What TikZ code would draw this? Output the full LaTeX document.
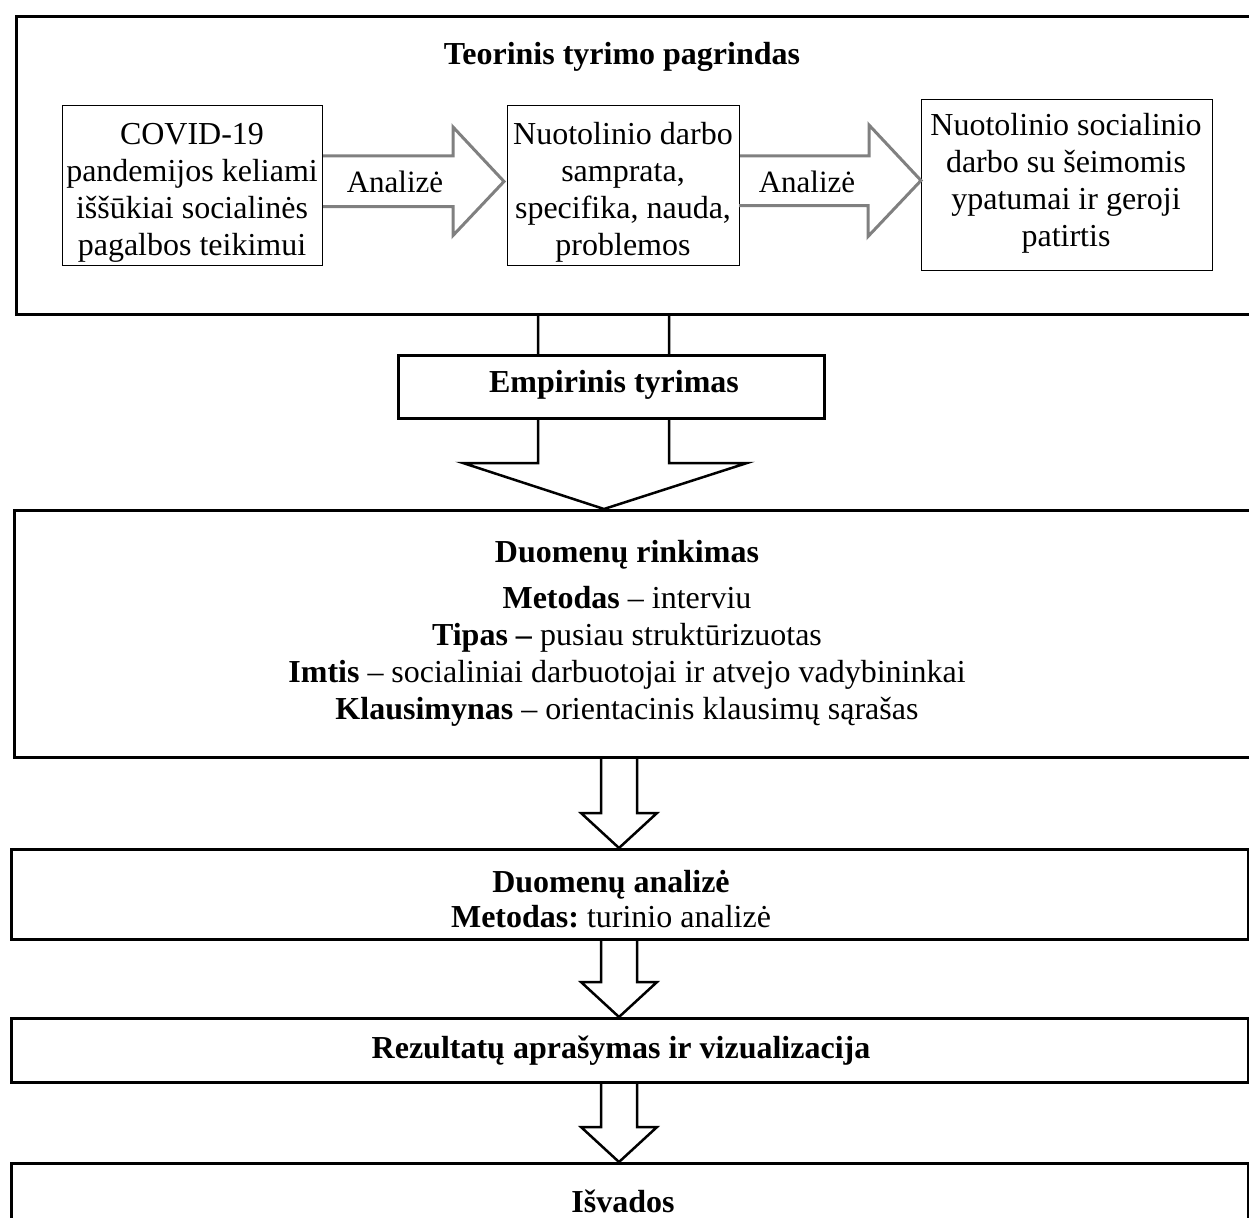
\documentclass[tikz,border=0pt]{standalone}
\usepackage{fontspec}
\setmainfont{Liberation Serif}
\usetikzlibrary{calc}
\frenchspacing

\tikzset{
  bigframe/.style={draw, line width=3pt, inner sep=0pt, anchor=north west},
  smallbox/.style={draw, line width=1pt, inner sep=0pt, anchor=north west},
  txt/.style={align=center, inner sep=0pt, font=\fontsize{32}{37}\selectfont},
  grayarrow/.style={draw=black!50, line width=3pt, line join=miter},
  hollowarrow/.style={draw, line width=2.5pt, line join=miter},
}

\begin{document}
\begin{tikzpicture}[x=1pt, y=-1pt]
  \useasboundingbox (0,0) rectangle (1249,1217);
  \clip (0,0) rectangle (1249,1217);

  % theory part
  \node[bigframe, minimum width=1240pt, minimum height=298pt] (teorija) at (15,15) {};
  \node[txt, anchor=base] (titulas) at (622,65) {\textbf{Teorinis tyrimo pagrindas}};

  \node[smallbox, minimum width=260pt, minimum height=160pt] (covid) at (62,105) {};
  \node[smallbox, minimum width=232pt, minimum height=160pt] (samprata) at (507,105) {};
  \node[smallbox, minimum width=291pt, minimum height=171pt] (patirtis) at (921,99) {};

  \node[txt] (covidtxt) at (192,192.5) {COVID-19\\pandemijos keliami\\iššūkiai socialinės\\pagalbos teikimui};
  \node[txt] (sampratatxt) at (623,192.5) {Nuotolinio darbo\\samprata,\\specifika, nauda,\\problemos};
  \node[txt] (patirtistxt) at (1066,183) {Nuotolinio socialinio\\darbo su šeimomis\\ypatumai ir geroji\\patirtis};

  \draw[grayarrow] ($(covid.north east)+(0,51)$) -- ++(130,0) -- ++(0,-29)
    -- ($(samprata.west)+(-3,-4)$) -- ++(-51,54) -- ++(0,-29) -- ++(-130,0);
  \draw[grayarrow] ($(samprata.north east)+(0,51)$) -- ++(129,0) -- ++(0,-31)
    -- ($(patirtis.west)+(0,-4.5)$) -- ++(-53,56) -- ++(0,-31) -- ++(-129,0);
  \node[txt, anchor=base, font=\fontsize{31}{37}\selectfont] (analize1) at (395,193) {Analizė};
  \node[txt, anchor=base, font=\fontsize{31}{37}\selectfont] (analize2) at (807,193) {Analizė};

  % empirical part
  \node[bigframe, minimum width=1240pt, minimum height=247pt] (rinkimas) at (13,509) {};
  \coordinate (el) at (538,0);
  \coordinate (er) at (669,0);
  \coordinate (etip) at (604,0);
  \draw[hollowarrow] (el |- teorija.south) -- ($(el |- rinkimas.north)+(0,-46)$) -- ++(-75,0)
    -- (etip |- rinkimas.north) -- ($(er |- rinkimas.north)+(78,-46)$) -- ++(-78,0) -- (er |- teorija.south);
  \node[bigframe, fill=white, minimum width=426pt, minimum height=63pt] (empirinis) at (397,354) {};
  \node[txt, anchor=base] (empirinistxt) at (614,392) {\textbf{Empirinis tyrimas}};

  \node[txt] (rinkimastxt) at (627,633) {\textbf{Duomenų rinkimas}\\[9pt]
    \textbf{Metodas} – interviu\\
    \textbf{Tipas –} pusiau struktūrizuotas\\
    \textbf{Imtis} – socialiniai darbuotojai ir atvejo vadybininkai\\
    \textbf{Klausimynas} – orientacinis klausimų sąrašas};

  \node[bigframe, minimum width=1237pt, minimum height=90pt] (analize) at (10,848) {};
  \node[txt] (analizetxt) at (611,899) {\textbf{Duomenų analizė}\\[-2pt]\textbf{Metodas:} turinio analizė};

  \node[bigframe, minimum width=1237pt, minimum height=64pt] (rezultatai) at (10,1017) {};
  \node[txt, anchor=base] (rezultataitxt) at (621,1058) {\textbf{Rezultatų aprašymas ir vizualizacija}};

  \node[bigframe, minimum width=1237pt, minimum height=80pt] (isvados) at (10,1162) {};
  \node[txt, anchor=base] (isvadostxt) at (623,1212) {\textbf{Išvados}};

  % hollow arrows between the lower boxes
  \coordinate (ax) at (619,0);
  \foreach \a/\b in {rinkimas/analize, analize/rezultatai, rezultatai/isvados}{
    \draw[hollowarrow] ($(ax |- \a.south)+(-18,0)$) -- ($(ax |- \b.north)+(-18,-35)$) -- ++(-20,0)
      -- (ax |- \b.north) -- ++(38,-35) -- ++(-20,0) -- ($(ax |- \a.south)+(18,0)$);
  }
\end{tikzpicture}
\end{document}
